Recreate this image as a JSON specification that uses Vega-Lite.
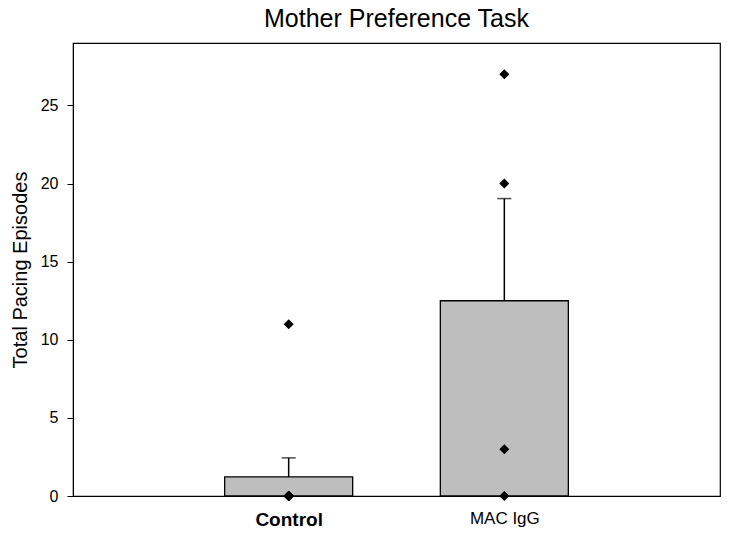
{
  "$schema": "https://vega.github.io/schema/vega-lite/v6.json",
  "autosize": "none",
  "width": 647,
  "height": 453,
  "padding": {"left": 73, "top": 43, "right": 9, "bottom": 44},
  "background": "white",
  "title": {"text": "Mother Preference Task", "fontSize": 25, "font": "Liberation Sans", "fontWeight": "normal", "color": "black", "offset": 11},
  "config": {
    "view": {"stroke": "black", "strokeWidth": 1.2},
    "axis": {"labelFont": "Liberation Sans", "titleFont": "Liberation Sans", "labelColor": "black", "titleColor": "black", "domainColor": "black", "tickColor": "black", "grid": false},
    "axisY": {"labelFontSize": 16, "tickSize": 6, "labelPadding": 9, "titleFontSize": 20, "titleFontWeight": "normal", "titlePadding": 10}
  },
  "datasets": {
    "bars": [
      {"group": "Control", "mean": 1.22, "upper": 2.44},
      {"group": "MAC IgG", "mean": 12.5, "upper": 19.04}
    ],
    "points": [
      {"group": "Control", "value": 0},
      {"group": "Control", "value": 0},
      {"group": "Control", "value": 0},
      {"group": "Control", "value": 0},
      {"group": "Control", "value": 0},
      {"group": "Control", "value": 0},
      {"group": "Control", "value": 0},
      {"group": "Control", "value": 0},
      {"group": "Control", "value": 11},
      {"group": "MAC IgG", "value": 27},
      {"group": "MAC IgG", "value": 20},
      {"group": "MAC IgG", "value": 3},
      {"group": "MAC IgG", "value": 0}
    ]
  },
  "encoding": {
    "x": {
      "field": "group", "type": "nominal",
      "scale": {"type": "point", "padding": 1, "domain": ["Control", "MAC IgG"]},
      "axis": {
        "title": null, "labelAngle": 0, "ticks": false, "labelPadding": 14, "domain": true,
        "labelFontSize": {"condition": {"test": "datum.value == 'Control'", "value": 19}, "value": 17},
        "labelFontWeight": {"condition": {"test": "datum.value == 'Control'", "value": "bold"}, "value": "normal"}
      }
    }
  },
  "layer": [
    {
      "data": {"name": "bars"},
      "mark": {"type": "bar", "width": 128, "fill": "#bebebe", "stroke": "black", "strokeWidth": 1.3},
      "encoding": {
        "y": {
          "field": "mean", "type": "quantitative",
          "scale": {"domain": [0, 29], "nice": false},
          "axis": {
            "title": "Total Pacing Episodes",
            "values": [0, 5, 10, 15, 20, 25]
          }
        }
      }
    },
    {
      "data": {"name": "bars"},
      "mark": {"type": "rule", "color": "black", "strokeWidth": 1.5},
      "encoding": {
        "y": {"field": "mean", "type": "quantitative"},
        "y2": {"field": "upper"}
      }
    },
    {
      "data": {"name": "bars"},
      "mark": {"type": "tick", "color": "black", "orient": "horizontal", "size": 14, "thickness": 1.5},
      "encoding": {
        "y": {"field": "upper", "type": "quantitative"}
      }
    },
    {
      "data": {"name": "points"},
      "mark": {"type": "point", "shape": "diamond", "filled": true, "color": "black", "size": 100, "opacity": 1},
      "encoding": {
        "y": {"field": "value", "type": "quantitative"}
      }
    }
  ]
}
